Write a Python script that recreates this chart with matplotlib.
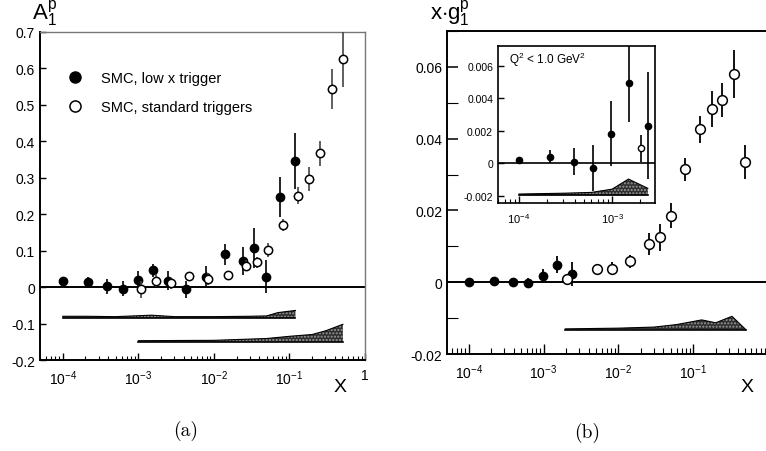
import numpy as np
import matplotlib
matplotlib.use("Agg")
import matplotlib.pyplot as plt
from matplotlib.ticker import LogLocator, FixedLocator, MultipleLocator, FuncFormatter, NullFormatter

plt.rcParams['font.family'] = ['Liberation Sans', 'DejaVu Sans']
plt.rcParams['mathtext.fontset'] = 'custom'
plt.rcParams['mathtext.rm'] = 'Liberation Sans'
plt.rcParams['mathtext.it'] = 'Liberation Sans'
plt.rcParams['axes.unicode_minus'] = False

# ---- A1 (left panel) ----
a1_low_x = [1.0e-4, 2.16e-4, 3.9e-4, 6.2e-4, 9.8e-4, 1.55e-3, 2.45e-3, 4.3e-3,
            7.8e-3, 1.4e-2, 2.42e-2, 3.42e-2, 4.84e-2, 7.6e-2, 0.118]
a1_low = [0.016, 0.015, 0.002, -0.004, 0.020, 0.046, 0.018, -0.006,
          0.029, 0.090, 0.072, 0.107, 0.029, 0.248, 0.345]
a1_low_err = [0.013, 0.014, 0.020, 0.020, 0.025, 0.018, 0.026, 0.024,
              0.028, 0.029, 0.039, 0.055, 0.045, 0.055, 0.077]

a1_std_x = [1.08e-3, 1.7e-3, 2.67e-3, 4.66e-3, 8.4e-3, 1.53e-2, 2.65e-2, 3.72e-2,
            5.19e-2, 8.2e-2, 0.128, 0.181, 0.256, 0.366, 0.51]
a1_std = [-0.006, 0.018, 0.010, 0.030, 0.022, 0.032, 0.059, 0.068,
          0.101, 0.171, 0.251, 0.296, 0.367, 0.543, 0.625]
a1_std_err = [0.024, 0.017, 0.015, 0.008, 0.016, 0.010, 0.016, 0.016,
              0.019, 0.017, 0.024, 0.033, 0.034, 0.055, 0.075]

# systematic error bands
a1_sys1_x = [1.0e-4, 2e-4, 5e-4, 1.5e-3, 3e-3, 1e-2, 3e-2, 5e-2, 7e-2, 0.12]
a1_sys1_top = [-0.080, -0.080, -0.081, -0.077, -0.081, -0.081, -0.080, -0.079, -0.070, -0.064]
a1_sys1_base = -0.085
a1_sys2_x = [1.0e-3, 1e-2, 5e-2, 0.1, 0.2, 0.3, 0.51]
a1_sys2_top = [-0.147, -0.146, -0.141, -0.135, -0.130, -0.120, -0.102]
a1_sys2_base = -0.150

# ---- x*g1 (right panel) ----
g1_low_x = [1.0e-4, 2.17e-4, 3.86e-4, 6.25e-4, 9.7e-4, 1.52e-3, 2.41e-3]
g1_low = [0.00018, 0.0004, 0.0001, -0.0003, 0.0018, 0.0049, 0.0023]
g1_low_err = [0.0002, 0.0004, 0.0008, 0.0014, 0.0020, 0.0024, 0.0033]

g1_std_x = [2.05e-3, 5.14e-3, 8.24e-3, 1.43e-2, 2.57e-2, 3.6e-2, 5.05e-2,
            7.8e-2, 0.125, 0.177, 0.246, 0.352, 0.489]
g1_std = [0.0009, 0.0036, 0.0037, 0.0059, 0.0106, 0.0125, 0.0185,
          0.0315, 0.0426, 0.0483, 0.0508, 0.058, 0.0335]
g1_std_err = [0.0008, 0.0015, 0.0018, 0.0018, 0.0030, 0.0038, 0.0035,
              0.0032, 0.0037, 0.0050, 0.0048, 0.0066, 0.0047]

g1_sys_x = [1.95e-3, 1e-2, 3e-2, 6e-2, 0.13, 0.2, 0.33, 0.505]
g1_sys_top = [-0.0130, -0.0128, -0.0125, -0.0118, -0.0105, -0.0113, -0.0095, -0.0132]
g1_sys_base = -0.01325

# inset: Q2 < 1 GeV2
ins_sys_x = [1.0e-4, 3e-4, 6e-4, 1e-3, 1.5e-3, 2.42e-3]
ins_sys_top = [-0.0019, -0.00185, -0.0018, -0.0016, -0.00098, -0.00155]
ins_sys_base = -0.00198


def log_fmt(v, pos):
    if abs(v - 1.0) < 1e-9:
        return '1'
    return r'$10^{%d}$' % int(round(np.log10(v)))


def log_fmt_no_one(v, pos):
    # the panel ends at x = 1, so that label would sit on the edge
    if abs(v - 1.0) < 1e-9:
        return ''
    return log_fmt(v, pos)


def style_log_x(ax, major_len=6, minor_len=3, size=10, fmt=log_fmt):
    ax.set_xscale('log')
    ax.xaxis.set_major_locator(LogLocator(base=10, numticks=12))
    ax.xaxis.set_minor_locator(LogLocator(base=10, subs=np.arange(2, 10), numticks=12))
    ax.xaxis.set_major_formatter(FuncFormatter(fmt))
    ax.xaxis.set_minor_formatter(NullFormatter())
    ax.tick_params(axis='x', which='major', direction='in', length=major_len, width=1,
                   labelsize=size, pad=6, top=False)
    ax.tick_params(axis='x', which='minor', direction='in', length=minor_len, width=0.8, top=False)


def band(ax, x, top, base):
    ax.fill_between(x, base, top, facecolor='#2e2e2e', edgecolor='#9a9a9a',
                    hatch='.....', linewidth=0)
    ax.plot(x, top, color='black', lw=0.8)
    ax.plot([x[0], x[-1]], [base, base], color='black', lw=1.2)


fig = plt.figure(figsize=(7.66, 4.52), dpi=100)

# ---------------- left panel ----------------
ax1 = fig.add_axes([0.0522, 0.2013, 0.4243, 0.7257])
ax1.set_xlim(5e-5, 1.0)
ax1.set_ylim(-0.2, 0.7)
style_log_x(ax1, major_len=5, minor_len=3)
ax1.yaxis.set_major_locator(MultipleLocator(0.1))
ax1.yaxis.set_major_formatter(FuncFormatter(lambda v, p: '0' if abs(v) < 1e-9 else '%.1f' % v))
ax1.tick_params(axis='y', direction='in', length=4, width=1, labelsize=10, right=False)
for s in ['left', 'bottom']:
    ax1.spines[s].set_linewidth(1.4)
for s in ['top', 'right']:
    ax1.spines[s].set_color('#777777')
    ax1.spines[s].set_linewidth(1.0)
ax1.axhline(0, color='black', lw=1.4)

band(ax1, a1_sys1_x, a1_sys1_top, a1_sys1_base)
band(ax1, a1_sys2_x, a1_sys2_top, a1_sys2_base)

ax1.errorbar(a1_low_x, a1_low, yerr=a1_low_err, fmt='o', color='black', ms=6,
             elinewidth=1.2, capsize=0, zorder=4)
ax1.errorbar(a1_std_x, a1_std, yerr=a1_std_err, fmt='o', mfc='white', mec='black',
             mew=1.1, ecolor='#444444', ms=6, elinewidth=1.2, capsize=0, zorder=5)

leg_h1, = ax1.plot([], [], 'o', color='black', ms=8)
leg_h2, = ax1.plot([], [], 'o', mfc='white', mec='black', mew=1.1, ms=8)
ax1.legend([leg_h1, leg_h2], ['SMC, low x trigger', 'SMC, standard triggers'],
           loc='upper left', bbox_to_anchor=(0.04, 0.92), frameon=False, fontsize=10.5,
           handletextpad=1.2, labelspacing=1.0, handlelength=1.2)

fig.text(0.042, 0.935, r'$\mathrm{A}_1^{\mathrm{p}}$', fontsize=16, ha='left', va='bottom')
fig.text(340 / 766, 1 - 388 / 452, 'X', fontsize=14, ha='center', va='center')
fig.text(186 / 766, 1 - 431 / 452, '(a)', family='cmr10', fontsize=14, ha='center', va='center')

# ---------------- right panel ----------------
ax2 = fig.add_axes([0.5836, 0.2146, 0.419, 0.7146])
ax2.set_xlim(10 ** -4.29, 1.0)
ax2.set_ylim(-0.02, 0.07)
style_log_x(ax2, major_len=7, minor_len=4, fmt=log_fmt_no_one)
ax2.yaxis.set_major_locator(FixedLocator([-0.02, 0.0, 0.02, 0.04, 0.06]))
ax2.yaxis.set_minor_locator(MultipleLocator(0.01))
ax2.yaxis.set_major_formatter(FuncFormatter(lambda v, p: '0' if abs(v) < 1e-9 else '%.2f' % v))
ax2.tick_params(axis='y', which='major', direction='in', length=8, width=1.1, labelsize=10, right=False)
ax2.tick_params(axis='y', which='minor', direction='in', length=8, width=0.8, right=False)
for s in ['left', 'bottom', 'top']:
    ax2.spines[s].set_linewidth(1.4)
ax2.spines['right'].set_visible(False)
ax2.axhline(0, color='black', lw=1.4)

band(ax2, g1_sys_x, g1_sys_top, g1_sys_base)

ax2.errorbar(g1_low_x, g1_low, yerr=g1_low_err, fmt='o', color='black', ms=6,
             elinewidth=1.3, capsize=0, zorder=4)
ax2.errorbar(g1_std_x, g1_std, yerr=g1_std_err, fmt='o', mfc='white', mec='black',
             mew=1.1, ecolor='black', ms=7, elinewidth=1.3, capsize=0, zorder=5)

fig.text(430 / 766, 0.935, r'x$\cdot$g$_1^{\mathrm{p}}$', fontsize=16, ha='left', va='bottom')
fig.text(747 / 766, 1 - 387 / 452, 'X', fontsize=14, ha='center', va='center')
fig.text(587 / 766, 1 - 433 / 452, '(b)', family='cmr10', fontsize=14, ha='center', va='center')

# ---------------- inset ----------------
ax3 = fig.add_axes([0.650, 0.5487, 0.205, 0.3473])
ax3.set_xlim(10 ** -4.226, 10 ** -2.54)
ax3.set_ylim(-0.00245, 0.0072)
style_log_x(ax3, major_len=5, minor_len=3, size=8)
ax3.yaxis.set_major_locator(FixedLocator([-0.002, 0.0, 0.002, 0.004, 0.006]))
ax3.yaxis.set_major_formatter(FuncFormatter(lambda v, p: '0' if abs(v) < 1e-12 else '%.3f' % v))
ax3.tick_params(axis='y', direction='in', length=4, width=1, labelsize=7.5, right=False)
for s in ax3.spines.values():
    s.set_linewidth(1.2)
ax3.axhline(0, color='black', lw=1.2)

band(ax3, ins_sys_x, ins_sys_top, ins_sys_base)

ax3.errorbar(g1_low_x, g1_low, yerr=g1_low_err, fmt='o', color='black', ms=4.5,
             elinewidth=1.2, capsize=0, zorder=4)
ax3.errorbar(g1_std_x[:1], g1_std[:1], yerr=g1_std_err[:1], fmt='o', mfc='white', mec='black',
             mew=1.0, ecolor='black', ms=4.5, elinewidth=1.2, capsize=0, zorder=5)
ax3.text(0.07, 0.92, r'Q$^2$ < 1.0 GeV$^2$', transform=ax3.transAxes, fontsize=8.5,
         ha='left', va='center')

fig.savefig('out.png', dpi=100)
